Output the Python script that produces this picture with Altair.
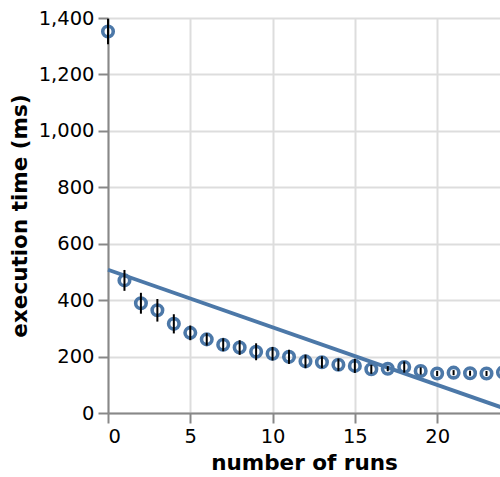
import altair as alt
import pandas as pd

runs = list(range(25))
mean_ms = [1352, 470, 389, 364, 316, 284, 261, 242, 232, 217, 210, 199, 183, 180, 171, 167,
           155, 157, 163, 149, 140, 143, 141, 140, 144]
err_ms = [45, 37, 37, 40, 34, 26, 22, 23, 26, 30, 24, 25, 24, 21, 22, 25,
          16, 9, 20, 13, 9, 9, 9, 9, 9]
x_ticks = [0, 5, 10, 15, 20]
y_ticks = [0, 200, 400, 600, 800, 1000, 1200, 1400]

df = pd.DataFrame({"runs": runs, "time": mean_ms, "err": err_ms})
df["lo"] = df["time"] - df["err"]
df["hi"] = df["time"] + df["err"]

xscale = alt.Scale(domain=[0, 23.82], nice=False)
yscale = alt.Scale(domain=[0, 1400], nice=False)

base = alt.Chart(df)
points = base.mark_point(filled=False, size=110, strokeWidth=3.6, color="#4c78a8", opacity=1).encode(
    x=alt.X("runs:Q", scale=xscale, title="number of runs", axis=alt.Axis(values=x_ticks)),
    y=alt.Y("time:Q", scale=yscale, title="execution time (ms)", axis=alt.Axis(values=y_ticks)),
)
line = base.transform_regression("runs", "time").mark_line(strokeWidth=3.8, color="#4c78a8").encode(
    x=alt.X("runs:Q", scale=xscale),
    y=alt.Y("time:Q", scale=yscale),
)
bars = base.mark_rule(strokeWidth=2, color="black").encode(
    x=alt.X("runs:Q", scale=xscale),
    y=alt.Y("lo:Q", scale=yscale),
    y2="hi:Q",
)

chart = (
    alt.layer(points, line, bars)
    .properties(
        width=392,
        height=395,
        autosize=alt.AutoSizeParams(type="none"),
        padding={"left": 108, "top": 18, "bottom": 64, "right": 0},
    )
    .configure(font="DejaVu Sans")
    .configure_axis(
        labelFont="DejaVu Sans",
        titleFont="DejaVu Sans",
        labelFontSize=19.5,
        titleFontSize=21.5,
        tickSize=10,
        tickWidth=2,
        domainWidth=2,
        gridWidth=2,
        labelPadding=4,
        titlePadding=7,
    )
    .configure_view(strokeWidth=0)
)

chart.save("out.html", embed_options={"renderer": "svg", "actions": False})
